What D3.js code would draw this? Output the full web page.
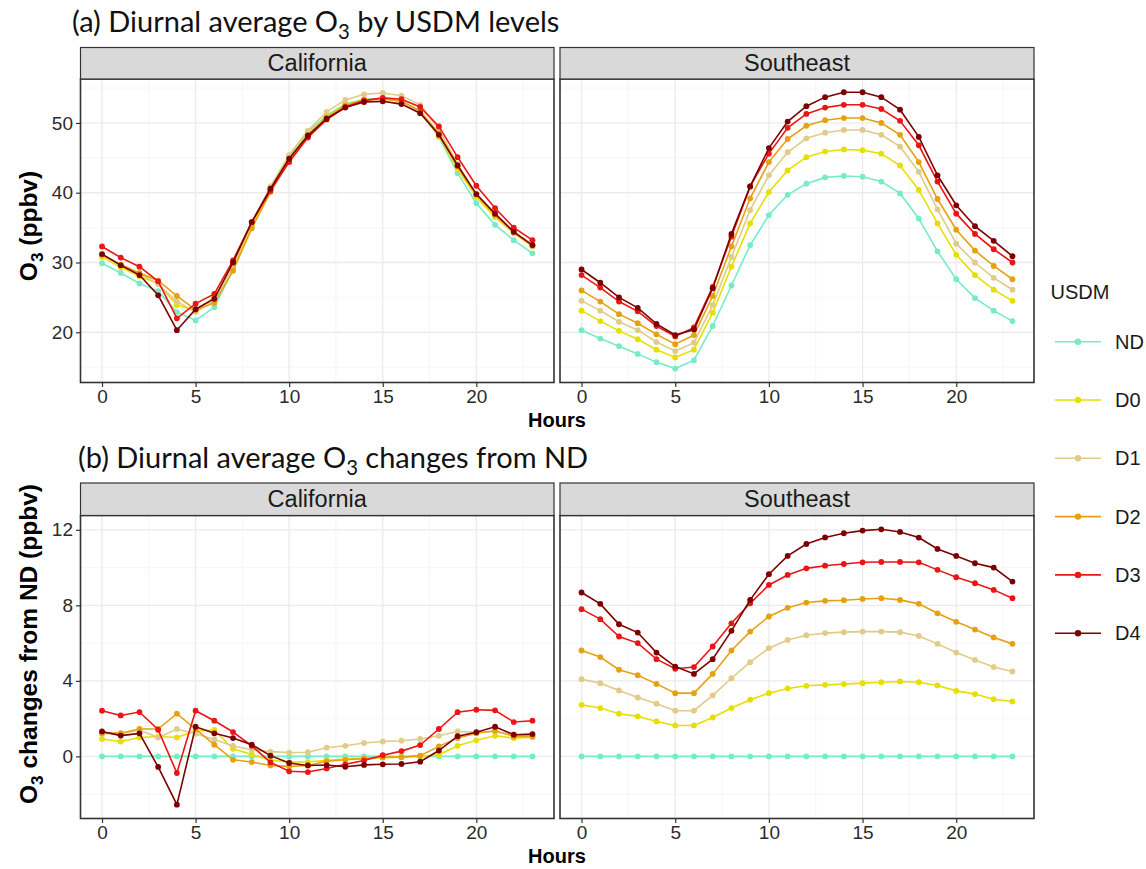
<!DOCTYPE html>
<html>
<head>
<meta charset="utf-8">
<script src="https://cdn.jsdelivr.net/npm/d3@7"></script>
<style>
  body { margin: 0; background: #fff; }
</style>
</head>
<body>
<div id="chart"></div>
<script>
// hours of day on the x axis
const hours = [0, 1, 2, 3, 4, 5, 6, 7, 8, 9, 10, 11, 12, 13, 14, 15, 16, 17, 18, 19, 20, 21, 22, 23];
const levels = ["ND", "D0", "D1", "D2", "D3", "D4"];
const regions = ["California", "Southeast"];
const hourTicks = [0, 5, 10, 15, 20];

// (a) diurnal average O3 (ppbv)
const caND = [29.9, 28.5, 27.0, 25.9, 22.9, 21.7, 23.6, 29.0, 35.2, 40.6, 45.2, 48.7, 51.1, 52.7, 53.4, 53.5, 53.1, 51.7, 48.0, 42.8, 38.5, 35.4, 33.2, 31.3];
const caD0 = [30.8, 29.3, 28.0, 27.0, 23.9, 23.1, 25.0, 29.4, 35.3, 40.4, 44.9, 48.4, 50.9, 52.6, 53.3, 53.4, 53.1, 51.7, 48.1, 43.4, 39.4, 36.5, 34.2, 32.3];
const caD1 = [31.1, 29.7, 28.4, 26.9, 24.4, 22.9, 24.5, 29.6, 35.6, 40.9, 45.4, 48.9, 51.6, 53.3, 54.1, 54.3, 53.9, 52.6, 49.1, 44.1, 39.8, 36.7, 34.4, 32.4];
const caD2 = [31.1, 29.7, 28.5, 27.4, 25.2, 23.2, 24.2, 28.8, 34.9, 40.1, 44.7, 48.2, 50.8, 52.5, 53.3, 53.5, 53.1, 51.7, 48.5, 43.8, 39.7, 36.8, 34.3, 32.4];
const caD3 = [32.3, 30.7, 29.4, 27.3, 22.0, 24.1, 25.5, 30.3, 35.8, 40.3, 44.4, 47.9, 50.5, 52.3, 53.2, 53.6, 53.4, 52.3, 49.5, 45.1, 41.0, 37.8, 35.0, 33.2];
const caD4 = [31.2, 29.6, 28.2, 25.3, 20.3, 23.3, 24.8, 30.0, 35.8, 40.6, 44.9, 48.2, 50.6, 52.2, 53.0, 53.1, 52.7, 51.4, 48.3, 43.9, 39.8, 37.0, 34.4, 32.5];

const seND = [20.3, 19.1, 18.0, 16.9, 15.7, 14.8, 16.0, 20.9, 26.7, 32.5, 36.8, 39.7, 41.3, 42.2, 42.4, 42.3, 41.6, 39.9, 36.3, 31.6, 27.6, 24.9, 23.1, 21.6];
const seD0 = [23.1, 21.6, 20.2, 19.0, 17.5, 16.4, 17.5, 22.8, 29.4, 35.6, 40.1, 43.2, 45.1, 45.9, 46.2, 46.1, 45.6, 43.9, 40.4, 35.6, 31.1, 28.2, 26.1, 24.5];
const seD1 = [24.5, 23.1, 21.5, 20.3, 18.6, 17.3, 18.5, 23.9, 30.8, 37.5, 42.5, 45.8, 47.8, 48.6, 49.0, 49.0, 48.3, 46.6, 43.0, 37.6, 32.7, 30.0, 27.8, 26.1];
const seD2 = [26.0, 24.4, 22.6, 21.3, 19.7, 18.3, 19.6, 25.2, 32.3, 39.2, 44.4, 47.7, 49.6, 50.4, 50.7, 50.7, 50.0, 48.3, 44.4, 39.1, 34.7, 31.7, 29.5, 27.6];
const seD3 = [28.2, 26.4, 24.4, 23.0, 20.9, 19.4, 20.7, 26.5, 33.7, 40.9, 45.6, 49.3, 51.3, 52.2, 52.6, 52.6, 52.0, 50.3, 46.8, 41.6, 37.0, 34.1, 31.9, 30.0];
const seD4 = [29.0, 27.1, 25.0, 23.5, 21.2, 19.6, 20.4, 26.3, 34.1, 40.9, 46.4, 50.2, 52.4, 53.7, 54.4, 54.4, 53.7, 51.9, 48.0, 42.5, 38.2, 35.2, 33.1, 30.9];

// (b) O3 changes from ND (ppbv)
const caChgND = [0, 0, 0, 0, 0, 0, 0, 0, 0, 0, 0, 0, 0, 0, 0, 0, 0, 0, 0, 0, 0, 0, 0, 0];
const caChgD0 = [0.92, 0.79, 1.0, 1.05, 1.0, 1.35, 1.4, 0.4, 0.1, -0.2, -0.3, -0.3, -0.21, -0.14, -0.09, -0.07, -0.04, 0.0, 0.09, 0.56, 0.85, 1.09, 0.97, 1.02];
const caChgD1 = [1.2, 1.2, 1.4, 1.0, 1.45, 1.2, 0.9, 0.55, 0.35, 0.25, 0.2, 0.22, 0.46, 0.56, 0.71, 0.79, 0.83, 0.92, 1.09, 1.32, 1.27, 1.32, 1.15, 1.09];
const caChgD2 = [1.23, 1.23, 1.45, 1.45, 2.26, 1.45, 0.62, -0.18, -0.3, -0.48, -0.53, -0.48, -0.26, -0.18, -0.12, -0.04, -0.04, 0.04, 0.53, 0.97, 1.23, 1.36, 1.06, 1.06];
const caChgD3 = [2.42, 2.17, 2.35, 1.41, -0.88, 2.42, 1.89, 1.29, 0.56, -0.32, -0.79, -0.83, -0.64, -0.42, -0.22, 0.06, 0.28, 0.6, 1.45, 2.34, 2.47, 2.44, 1.82, 1.89];
const caChgD4 = [1.32, 1.1, 1.22, -0.56, -2.56, 1.57, 1.22, 0.97, 0.62, 0.04, -0.35, -0.48, -0.46, -0.55, -0.45, -0.42, -0.4, -0.28, 0.31, 1.07, 1.28, 1.57, 1.15, 1.18];

const seChgND = [0, 0, 0, 0, 0, 0, 0, 0, 0, 0, 0, 0, 0, 0, 0, 0, 0, 0, 0, 0, 0, 0, 0, 0];
const seChgD0 = [2.73, 2.56, 2.26, 2.12, 1.85, 1.64, 1.64, 2.06, 2.56, 3.0, 3.35, 3.6, 3.74, 3.79, 3.83, 3.88, 3.93, 3.97, 3.93, 3.76, 3.47, 3.3, 3.03, 2.91];
const seChgD1 = [4.09, 3.88, 3.49, 3.12, 2.79, 2.42, 2.42, 3.23, 4.14, 4.99, 5.73, 6.17, 6.42, 6.53, 6.58, 6.61, 6.61, 6.58, 6.38, 5.96, 5.5, 5.11, 4.73, 4.5];
const seChgD2 = [5.61, 5.26, 4.59, 4.3, 3.84, 3.35, 3.35, 4.37, 5.61, 6.61, 7.41, 7.87, 8.15, 8.24, 8.27, 8.34, 8.38, 8.29, 8.08, 7.58, 7.13, 6.72, 6.3, 5.96];
const seChgD3 = [7.8, 7.27, 6.35, 6.0, 5.15, 4.64, 4.73, 5.82, 7.05, 8.11, 9.08, 9.61, 9.96, 10.1, 10.19, 10.28, 10.3, 10.3, 10.28, 9.88, 9.49, 9.17, 8.82, 8.38];
const seChgD4 = [8.68, 8.08, 7.0, 6.56, 5.5, 4.76, 4.37, 5.15, 6.65, 8.29, 9.65, 10.62, 11.25, 11.6, 11.82, 11.96, 12.03, 11.89, 11.59, 10.99, 10.62, 10.23, 10.0, 9.26];

const topTicks = [20, 30, 40, 50];
const bottomTicks = [0, 4, 8, 12];

const levelColors = ["#76EBC8", "#E6DF00", "#E0CB88", "#E6A111", "#EC1414", "#7D0000"];

// layout
const W = 1146, H = 869;
const panelX = { California: [80.5, 554], Southeast: [560, 1034] };
const rows = [
  {
    stripTop: 47.5, panelTop: 79, panelBottom: 382.5,
    domain: [12.8, 56.3], ticks: topTicks, minor: [15, 25, 35, 45, 55],
    series: { California: [caND, caD0, caD1, caD2, caD3, caD4], Southeast: [seND, seD0, seD1, seD2, seD3, seD4] },
    hoursY: 419.5
  },
  {
    stripTop: 483, panelTop: 515.5, panelBottom: 818.5,
    domain: [-3.29, 12.76], ticks: bottomTicks, minor: [-2, 2, 6, 10],
    series: { California: [caChgND, caChgD0, caChgD1, caChgD2, caChgD3, caChgD4], Southeast: [seChgND, seChgD0, seChgD1, seChgD2, seChgD3, seChgD4] },
    hoursY: 856
  }
];

const svg = d3.select("#chart").append("svg")
  .attr("width", W).attr("height", H)
  .style("font-family", "'Liberation Sans', Arial, sans-serif");

svg.append("rect").attr("width", W).attr("height", H).attr("fill", "#fff");

rows.forEach(function(row) {
  const y = d3.scaleLinear().domain(row.domain).range([row.panelBottom, row.panelTop]);

  regions.forEach(function(region, ri) {
    const [x0, x1] = panelX[region];
    const x = d3.scaleLinear().domain([-1.15, 24.15]).range([x0, x1]);
    const g = svg.append("g");

    // grid
    [2.5, 7.5, 12.5, 17.5, 22.5].forEach(v => {
      g.append("line").attr("x1", x(v)).attr("x2", x(v)).attr("y1", row.panelTop).attr("y2", row.panelBottom)
        .attr("stroke", "#f2f2f2").attr("stroke-width", 0.7);
    });
    row.minor.forEach(v => {
      g.append("line").attr("x1", x0).attr("x2", x1).attr("y1", y(v)).attr("y2", y(v))
        .attr("stroke", "#f2f2f2").attr("stroke-width", 0.7);
    });
    hourTicks.forEach(v => {
      g.append("line").attr("x1", x(v)).attr("x2", x(v)).attr("y1", row.panelTop).attr("y2", row.panelBottom)
        .attr("stroke", "#ebebeb").attr("stroke-width", 1.3);
    });
    row.ticks.forEach(v => {
      g.append("line").attr("x1", x0).attr("x2", x1).attr("y1", y(v)).attr("y2", y(v))
        .attr("stroke", "#ebebeb").attr("stroke-width", 1.3);
    });

    // lines and points, ND first
    const line = d3.line().x((d, i) => x(hours[i])).y(d => y(d));
    row.series[region].forEach(function(vals, li) {
      g.append("path").attr("d", line(vals))
        .attr("fill", "none").attr("stroke", levelColors[li]).attr("stroke-width", 1.6);
      g.selectAll(null).data(vals).join("circle")
        .attr("cx", (d, i) => x(hours[i])).attr("cy", d => y(d)).attr("r", 2.9)
        .attr("fill", levelColors[li]);
    });

    // panel border
    g.append("rect").attr("x", x0).attr("y", row.panelTop)
      .attr("width", x1 - x0).attr("height", row.panelBottom - row.panelTop)
      .attr("fill", "none").attr("stroke", "#333").attr("stroke-width", 1.6);

    // strip
    g.append("rect").attr("x", x0).attr("y", row.stripTop)
      .attr("width", x1 - x0).attr("height", row.panelTop - row.stripTop)
      .attr("fill", "#d9d9d9").attr("stroke", "#333").attr("stroke-width", 1.2);
    g.append("text").attr("x", (x0 + x1) / 2).attr("y", (row.stripTop + row.panelTop) / 2)
      .attr("text-anchor", "middle").attr("dy", "0.35em")
      .style("font-size", "23.5px").attr("fill", "#1a1a1a").text(region);

    // x axis
    const xAxis = g.append("g").attr("transform", "translate(0," + row.panelBottom + ")")
      .call(d3.axisBottom(x).tickValues(hourTicks).tickSize(4.5).tickPadding(3));
    xAxis.select(".domain").remove();
    xAxis.selectAll("line").attr("stroke", "#333").attr("stroke-width", 1.2);
    xAxis.selectAll("text").style("font-size", "19px").attr("fill", "#2b2b2b").style("font-family", "'Liberation Sans', Arial, sans-serif");

    if (ri === 0) {
      const yAxis = g.append("g").attr("transform", "translate(" + x0 + ",0)")
        .call(d3.axisLeft(y).tickValues(row.ticks).tickSize(4.5).tickPadding(3));
      yAxis.select(".domain").remove();
      yAxis.selectAll("line").attr("stroke", "#333").attr("stroke-width", 1.2);
      yAxis.selectAll("text").style("font-size", "19px").attr("fill", "#2b2b2b").style("font-family", "'Liberation Sans', Arial, sans-serif");
    }
  });

  svg.append("text").attr("x", 557).attr("y", row.hoursY).attr("dy", "0.35em")
    .attr("text-anchor", "middle").style("font-size", "20px").style("font-weight", "bold")
    .text("Hours");
});

// text with a subscript 3
function subText(sel, before, after, size) {
  sel.append("tspan").text(before);
  sel.append("tspan").text("3").style("font-size", (size * 0.7) + "px").attr("dy", size * 0.25);
  sel.append("tspan").text(after).attr("dy", -size * 0.25);
}

// panel titles
const titleFont = "Lato, 'Open Sans', sans-serif";
subText(svg.append("text").attr("x", 72).attr("y", 32).style("font-family", titleFont).style("font-size", "29px").attr("fill", "#111"),
  "(a) Diurnal average O", " by USDM levels", 29);
subText(svg.append("text").attr("x", 78).attr("y", 468).style("font-family", titleFont).style("font-size", "29px").attr("fill", "#111"),
  "(b) Diurnal average O", " changes from ND", 29);

// y axis titles
subText(svg.append("text").attr("transform", "translate(37,226) rotate(-90)")
  .attr("text-anchor", "middle").style("font-size", "24.5px").style("font-weight", "bold"),
  "O", " (ppbv)", 24.5);
subText(svg.append("text").attr("transform", "translate(37,644) rotate(-90)")
  .attr("text-anchor", "middle").style("font-size", "24.5px").style("font-weight", "bold"),
  "O", " changes from ND (ppbv)", 24.5);

// legend
const legend = svg.append("g");
legend.append("text").attr("x", 1050.5).attr("y", 291.5).attr("dy", "0.35em")
  .style("font-size", "20px").attr("fill", "#1a1a1a").text("USDM");
levels.forEach(function(lv, i) {
  const ly = 341.7 + i * 58.3;
  legend.append("line").attr("x1", 1055).attr("x2", 1101).attr("y1", ly).attr("y2", ly)
    .attr("stroke", levelColors[i]).attr("stroke-width", 1.6);
  legend.append("circle").attr("cx", 1078).attr("cy", ly).attr("r", 3.2).attr("fill", levelColors[i]);
  legend.append("text").attr("x", 1115).attr("y", ly).attr("dy", "0.35em")
    .style("font-size", "20px").attr("fill", "#1a1a1a").text(lv);
});
</script>
</body>
</html>
